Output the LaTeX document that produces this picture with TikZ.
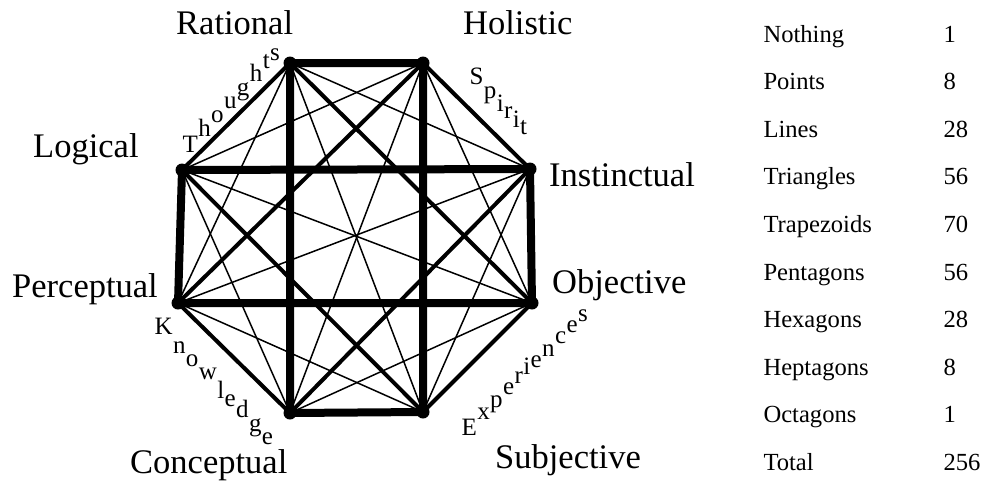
\documentclass[tikz,border=0pt]{standalone}
\usepackage{fontspec}
\setmainfont{Liberation Serif}
\usetikzlibrary{calc}

\tikzset{
	thinline/.style={line width=1.5pt},
	midline/.style={line width=4pt},
	boldline/.style={line width=8pt},
	dot/.style={circle, fill=black, inner sep=0pt, minimum size=13pt},
	biglabel/.style={inner sep=0pt, anchor=base west, font=\fontsize{34.5}{40}\selectfont},
	glyph/.style={inner sep=0pt, anchor=base west, font=\fontsize{25}{28}\selectfont},
	cell/.style={inner sep=0pt, anchor=base west, font=\fontsize{24.6}{28}\selectfont}
}

% letters set upright, each one raised (or lowered) by its own width
\newcommand{\stairword}[5]{%
	\node[glyph] (#1-0) at (#2) {};
	\foreach \ch [count=\i, remember=\i as \j (initially 0)] in {#5}
		\path let \p1=(#1-\j.base west), \p2=(#1-\j.base east) in
			node[glyph] (#1-\i) at ({\x2+#4pt},{\y2+#3*(\x2-\x1)}) {\ch};
}

\begin{document}
	\begin{tikzpicture}[x=1pt, y=-1pt]
		\useasboundingbox (0,0) rectangle (984,482);

		% corners of the octagon
		\coordinate (rat) at (290,63);
		\coordinate (hol) at (423,63);
		\coordinate (ins) at (530,169);
		\coordinate (obj) at (532,303);
		\coordinate (sub) at (423,412);
		\coordinate (con) at (290,413);
		\coordinate (per) at (178,303);
		\coordinate (log) at (182,170);

		% thin chords
		\foreach \a/\b in {rat/ins, hol/obj, ins/sub, obj/con, sub/per, con/log, per/rat, log/hol,
			rat/sub, hol/con, ins/per, obj/log}
			\draw[thinline] (\a) -- (\b);

		% slanted sides and the square
		\foreach \a/\b in {rat/log, hol/ins, obj/sub, con/per, rat/obj, hol/per, ins/con, log/sub}
			\draw[midline] (\a) -- (\b);

		% the two rectangles
		\draw[boldline] (rat) -- (hol) -- (sub) -- (con) -- cycle;
		\draw[boldline] (log) -- (ins) -- (obj) -- (per) -- cycle;

		\foreach \v in {rat, hol, ins, obj, sub, con, per, log}
			\node[dot] (\v-dot) at (\v) {};

		% names of the corners
		\node[biglabel] (rat-lbl) at (176,34) {Rational};
		\node[biglabel] (hol-lbl) at (463,34) {Holistic};
		\node[biglabel] (log-lbl) at (33,157) {Logical};
		\node[biglabel] (ins-lbl) at (549,186) {Instinctual};
		\node[biglabel] (per-lbl) at (12,297) {Perceptual};
		\node[biglabel] (obj-lbl) at (552,293) {Objective};
		\node[biglabel] (con-lbl) at (130,473) {Conceptual};
		\node[biglabel] (sub-lbl) at (495,468) {Subjective};

		% words along the slanted sides
		\stairword{tho}{181,154}{1.05}{0}{T,h,o,u,g,h,t,s}
		\stairword{spi}{468,83.3}{-0.98}{0}{S,p,i,r,i,t}
		\stairword{kno}{153,333.3}{-1.02}{0}{K,n,o,w,l,e,d,g,e}
		\stairword{exp}{460,436.7}{0.98}{0}{E,x,p,e,r,i,e,n,c,e,s}

		% counts
		\foreach \name/\num [count=\r from 0] in {Nothing/1, Points/8, Lines/28, Triangles/56,
			Trapezoids/70, Pentagons/56, Hexagons/28, Heptagons/8, Octagons/1, Total/256}
		{
			\node[cell] (name\r) at (763.3,{42+47.6*\r}) {\name};
			\node[cell] (num\r) at (943.3,{42+47.6*\r}) {\num};
		}

	\end{tikzpicture}
\end{document}
